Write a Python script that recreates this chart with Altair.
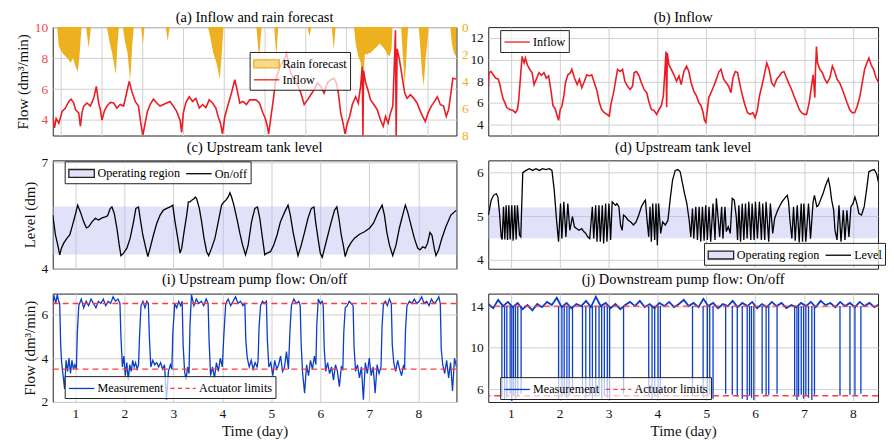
import altair as alt
import pandas as pd

SERIF = "Liberation Serif"
RED = "#EC1C24"
RED_LBL = "#EE4B4B"
ORANGE = "#EDB120"
ORANGE_LIGHT = "#F6D98F"
BLUE = "#0A3DC8"
LIMIT_RED = "#FF3B3B"
LAV_FILL = "#B8B8F0"
LAV_LEG = "#E2E2FA"

# ---------------- data ----------------
# (a) inflow and rain forecast (own time index, grid at integers)
a_inflow = [(0.81,4.2),(0.853,3.5),(0.894,4.1),(0.959,3.8),(1.041,4.56),(1.122,4.77),(1.204,5.2),(1.26,5.35),
    (1.326,5.1),(1.367,4.67),(1.448,4.45),(1.489,3.6),(1.53,4.5),(1.57,4.9),(1.652,5.1),(1.733,4.9),(1.815,5.4),
    (1.88,6.17),(1.937,5.1),(1.978,4.67),(2.019,4.0),(2.075,4.56),(2.14,4.9),(2.222,5.14),(2.304,5.1),(2.385,4.77),
    (2.467,5.0),(2.548,4.9),(2.613,5.63),(2.687,6.5),(2.752,5.85),(2.834,5.2),(2.915,4.9),(2.972,3.8),(3.021,3.0),
    (3.078,3.8),(3.135,4.56),(3.2,5.0),(3.282,5.35),(3.363,5.1),(3.445,4.9),(3.526,5.0),(3.608,5.1),(3.689,5.2),
    (3.771,4.9),(3.852,4.56),(3.934,4.0),(3.974,3.2),(4.015,4.45),(4.08,5.14),(4.162,5.5),(4.243,5.2),(4.325,5.4),
    (4.406,4.77),(4.488,5.0),(4.57,4.8),(4.651,5.3),(4.733,5.1),(4.814,4.77),(4.871,4.23),(4.928,3.8),(4.977,3.1),
    (5.034,4.23),(5.116,5.0),(5.197,5.74),(5.279,6.6),(5.336,5.96),(5.4,5.1),(5.482,5.2),(5.564,5.0),(5.645,5.3),
    (5.8,5.3),(5.882,5.1),(5.963,4.5),(6.028,4.1),(6.077,3.6),(6.11,3.1),(6.167,4.2),(6.224,5.3),(6.273,6.4),
    (6.33,7.0),(6.411,7.57),(6.493,7.9),(6.55,8.3),(6.615,7.46),(6.656,7.0),(6.738,6.6),(6.819,6.28),(6.901,5.74),
    (6.982,5.0),(7.064,5.3),(7.145,5.63),(7.227,5.96),(7.308,6.4),(7.39,6.17),(7.471,5.74),(7.553,6.4),(7.635,6.6),
    (7.716,6.7),(7.773,6.4),(7.822,5.74),(7.879,4.45),(7.936,3.8),(7.985,3.1),(8.042,3.8),(8.099,4.23),(8.164,5.0),
    (8.245,5.5),(8.31,5.1),(8.367,6.17),(8.408,7.46),(8.424,2.9),(8.44,7.2),(8.49,6.4),(8.546,5.96),(8.612,5.3),
    (8.693,5.0),(8.775,4.67),(8.856,4.0),(8.922,3.6),(8.979,4.23),(9.044,3.8),(9.101,4.45),(9.158,4.9),(9.207,8.5),
    (9.223,9.8),(9.24,2.9),(9.264,8.6),(9.321,7.9),(9.386,6.8),(9.451,5.74),(9.508,5.4),(9.59,5.63),(9.671,5.4),
    (9.753,5.1),(9.834,4.56),(9.891,4.23),(9.956,3.9),(10.021,4.45),(10.103,4.9),(10.184,5.2),(10.249,5.5),
    (10.323,5.0),(10.404,4.9),(10.47,4.23),(10.527,4.67),(10.584,5.74),(10.633,6.7),(10.71,6.65)]
a_rain = [(0.81,0),(0.918,0),(0.957,1.4),(1.04,1.9),(1.122,2.15),(1.204,2.4),(1.244,2.64),(1.31,2.3),(1.367,2.9),
    (1.424,3.3),(1.464,2.2),(1.497,0.8),(1.52,0),(1.628,0),(1.692,1.55),(1.749,0),(2.141,0),(2.198,1.0),(2.263,1.9),
    (2.361,3.5),(2.401,1.2),(2.434,0),(2.53,0),(2.58,1.0),(2.645,1.9),(2.711,4.0),(2.76,1.4),(2.8,0),(2.98,0),
    (3.021,1.3),(3.062,0),(3.584,0),(3.632,1.05),(3.681,0),(4.619,0),(4.667,0.6),(4.749,1.9),(4.83,2.64),
    (4.912,3.86),(4.96,1.9),(5.001,0),(5.808,0),(5.874,2.27),(5.939,0),(6.248,0),(6.297,2.15),(6.346,0),
    (7.063,0),(7.112,0.7),(7.161,0),(7.658,0),(7.707,1.66),(7.756,0),(8.204,0),(8.245,1.2),(8.31,2.15),
    (8.367,2.6),(8.424,3.86),(8.473,2.0),(8.53,2.0),(8.612,1.9),(8.693,1.66),(8.775,1.42),(8.832,1.2),
    (8.897,1.42),(8.963,1.66),(9.02,2.0),(9.077,2.15),(9.126,1.66),(9.15,0),(9.362,0),(9.403,2.0),(9.451,4.35),
    (9.492,2.15),(9.533,0),(9.794,0),(9.834,1.5),(9.875,3.4),(9.916,4.35),(9.956,2.6),(10.013,0.9),(10.038,0),
    (10.568,0),(10.608,1.2),(10.657,1.9),(10.706,2.15),(10.72,2.2)]

# (b) inflow, (day, dm3/min)
b_inflow = [(0.539,7.5),(0.552,8.8),(0.593,8.9),(0.640,8.6),(0.688,8.3),(0.742,8.2),(0.776,7.7),(0.810,6.95),
    (0.844,6.35),(0.878,6.04),(0.912,5.6),(0.980,5.4),(1.047,5.3),(1.095,5.1),(1.136,5.4),(1.163,6.35),(1.204,8.8),
    (1.231,10.3),(1.271,9.7),(1.298,10.15),(1.339,9.5),(1.387,9.1),(1.434,8.8),(1.475,7.7),(1.522,8.2),(1.577,8.8),
    (1.624,8.55),(1.678,8.8),(1.726,8.3),(1.773,8.5),(1.828,6.95),(1.862,5.75),(1.909,5.45),(1.950,4.8),(1.977,4.4),
    (2.011,5.4),(2.045,5.7),(2.085,6.65),(2.119,7.9),(2.167,8.6),(2.221,8.8),(2.248,9.1),(2.302,8.3),(2.357,7.7),
    (2.404,8.2),(2.452,7.4),(2.506,8.0),(2.554,8.6),(2.608,8.5),(2.655,8.6),(2.710,7.85),(2.764,7.1),(2.811,6.04),
    (2.859,5.4),(2.913,5.1),(2.967,4.95),(3.015,4.8),(3.049,5.9),(3.103,6.95),(3.150,8.2),(3.184,9.1),(3.239,8.9),
    (3.286,9.1),(3.334,8.0),(3.388,7.55),(3.442,7.25),(3.490,7.55),(3.524,8.8),(3.571,8.9),(3.625,8.5),(3.673,7.85),
    (3.727,7.25),(3.781,6.95),(3.829,6.04),(3.876,5.4),(3.931,5.3),(3.985,4.95),(4.032,5.4),(4.080,5.75),
    (4.121,6.65),(4.155,9.1),(4.175,10.75),(4.189,5.6),(4.202,10.6),(4.236,9.5),(4.284,9.1),(4.338,8.6),(4.392,8.0),
    (4.440,8.5),(4.487,7.7),(4.541,8.9),(4.596,9.4),(4.643,8.9),(4.690,7.85),(4.745,7.1),(4.799,6.65),(4.847,6.04),
    (4.894,5.75),(4.935,5.1),(4.962,4.4),(4.989,4.2),(5.016,5.1),(5.050,6.5),(5.097,6.95),(5.152,7.55),(5.206,8.2),
    (5.260,8.9),(5.301,9.1),(5.355,8.2),(5.410,7.85),(5.457,7.55),(5.505,6.95),(5.545,8.3),(5.593,8.9),(5.640,8.8),
    (5.695,7.55),(5.749,6.5),(5.796,5.75),(5.844,5.1),(5.898,4.95),(5.953,5.1),(6.000,4.65),(6.047,5.4),(6.088,6.65),
    (6.136,7.55),(6.183,8.5),(6.237,9.7),(6.285,9.1),(6.339,7.85),(6.387,7.55),(6.441,8.2),(6.495,8.5),(6.543,8.8),
    (6.590,8.9),(6.644,8.3),(6.699,7.7),(6.746,7.25),(6.794,6.65),(6.848,6.04),(6.902,5.4),(6.950,5.1),(7.004,4.95),
    (7.052,4.95),(7.106,6.04),(7.153,7.55),(7.187,8.6),(7.221,6.5),(7.235,9.1),(7.255,11.2),(7.276,9.7),(7.323,9.1),
    (7.377,8.8),(7.425,8.2),(7.472,7.85),(7.527,8.3),(7.581,9.4),(7.628,8.9),(7.676,8.2),(7.730,7.85),(7.785,7.25),
    (7.832,6.65),(7.880,6.04),(7.934,5.4),(7.988,5.1),(8.036,5.1),(8.083,5.6),(8.138,6.5),(8.192,7.85),(8.239,9.1),
    (8.287,9.7),(8.328,10.15),(8.375,9.5),(8.423,9.1),(8.477,8.3),(8.531,7.85),(8.579,8.3),(8.626,8.6),(8.681,8.5),
    (8.735,7.85),(8.762,8.0)]

# (c) upstream tank level, on/off (day, dm)
c_level = [(0.539,5.51),(0.593,4.95),(0.640,4.67),(0.681,4.39),(0.715,4.58),(0.762,4.72),(0.830,4.86),(0.885,4.95),
    (0.932,5.18),(0.980,5.42),(1.047,5.79),(1.102,5.6),(1.170,5.32),(1.224,5.15),(1.271,5.18),(1.339,5.32),
    (1.407,5.42),(1.475,5.37),(1.543,5.43),(1.611,5.46),(1.658,5.49),(1.713,5.7),(1.746,5.74),(1.794,5.56),
    (1.848,5.14),(1.895,4.67),(1.930,4.37),(1.984,4.44),(2.052,4.58),(2.119,4.86),(2.187,5.32),(2.235,5.7),
    (2.289,5.74),(2.323,5.42),(2.377,4.95),(2.438,4.58),(2.479,4.34),(2.526,4.58),(2.594,4.95),(2.662,5.28),
    (2.730,5.51),(2.798,5.65),(2.866,5.7),(2.934,5.74),(2.988,5.79),(3.035,5.32),(3.090,4.86),(3.137,4.44),
    (3.171,4.58),(3.219,5.04),(3.273,5.51),(3.307,5.88),(3.341,5.88),(3.375,5.93),(3.422,5.97),(3.449,6.02),
    (3.476,5.97),(3.531,5.7),(3.578,5.32),(3.626,4.86),(3.680,4.48),(3.721,4.37),(3.782,4.58),(3.850,4.86),
    (3.917,5.32),(3.985,5.79),(4.033,5.88),(4.073,5.93),(4.121,6.02),(4.155,6.14),(4.189,6.02),(4.236,5.79),
    (4.304,5.37),(4.358,5.0),(4.413,4.67),(4.474,4.39),(4.528,4.67),(4.596,5.32),(4.664,5.7),(4.718,5.74),
    (4.765,5.42),(4.820,4.86),(4.867,4.39),(4.915,4.44),(4.983,4.48),(5.050,4.67),(5.118,4.95),(5.186,5.32),
    (5.274,5.6),(5.342,5.79),(5.389,5.51),(5.444,5.04),(5.498,4.67),(5.545,4.37),(5.613,4.67),(5.681,5.04),
    (5.749,5.42),(5.817,5.7),(5.871,5.74),(5.905,5.32),(5.953,4.86),(6.000,4.44),(6.041,4.32),(6.088,4.58),
    (6.156,4.95),(6.224,5.32),(6.292,5.65),(6.339,5.74),(6.380,5.42),(6.428,4.95),(6.475,4.62),(6.509,4.34),
    (6.563,4.58),(6.631,4.74),(6.699,4.86),(6.801,4.97),(6.903,5.04),(7.004,5.14),(7.086,5.28),(7.174,5.56),
    (7.262,5.79),(7.310,5.51),(7.357,5.04),(7.411,4.67),(7.479,4.37),(7.547,4.67),(7.614,5.14),(7.682,5.51),
    (7.737,5.79),(7.784,5.6),(7.852,5.23),(7.920,4.86),(7.988,4.58),(8.035,4.53),(8.090,4.62),(8.143,4.58),
    (8.191,4.72),(8.239,5.02),(8.279,4.95),(8.327,4.58),(8.361,4.37),(8.415,4.53),(8.483,4.86),(8.564,5.18),
    (8.666,5.51),(8.781,5.65)]
c_region = [4.4, 5.75]

# (d) upstream tank level (day, dm)
d_level = [(0.538,5.03),(0.552,5.1),(0.599,5.37),(0.647,5.48),(0.701,5.52),(0.735,5.44),(0.769,5.06),(0.803,4.53),
    (0.823,4.47),(0.850,5.22),(0.877,4.47),(0.904,5.25),(0.932,4.46),(0.959,5.25),(0.986,4.47),(1.020,5.25),
    (1.047,4.44),(1.081,5.25),(1.108,4.47),(1.135,5.25),(1.176,4.57),(1.203,4.53),(1.244,6.0),(1.312,6.05),
    (1.379,6.09),(1.447,6.05),(1.515,6.09),(1.583,6.05),(1.651,6.09),(1.719,6.07),(1.786,6.09),(1.841,6.05),
    (1.888,5.6),(1.936,4.91),(1.976,4.42),(2.017,5.29),(2.044,4.49),(2.085,5.33),(2.126,4.53),(2.166,5.29),
    (2.207,4.68),(2.261,4.99),(2.302,4.76),(2.343,4.72),(2.397,4.68),(2.451,4.72),(2.492,4.65),(2.532,4.61),
    (2.573,4.53),(2.614,4.49),(2.668,5.22),(2.696,4.49),(2.736,5.25),(2.763,4.42),(2.804,5.25),(2.831,4.42),
    (2.872,5.25),(2.899,4.38),(2.940,5.29),(2.967,4.42),(3.008,5.29),(3.042,4.46),(3.075,5.33),(3.109,5.29),
    (3.143,5.25),(3.170,5.29),(3.211,5.22),(3.245,4.8),(3.279,4.68),(3.306,5.03),(3.347,4.99),(3.401,4.91),
    (3.455,4.87),(3.510,4.8),(3.564,4.87),(3.618,5.03),(3.672,5.22),(3.727,5.33),(3.754,5.37),(3.788,4.91),
    (3.822,4.53),(3.849,5.22),(3.876,4.42),(3.903,5.29),(3.944,4.46),(3.971,5.29),(3.998,4.34),(4.025,5.29),
    (4.066,4.61),(4.107,4.87),(4.161,4.8),(4.215,4.91),(4.263,5.41),(4.310,5.83),(4.365,6.05),(4.419,6.07),
    (4.466,6.02),(4.514,5.75),(4.555,5.52),(4.602,5.29),(4.650,4.91),(4.683,4.53),(4.717,5.18),(4.744,4.49),
    (4.785,5.22),(4.819,4.46),(4.853,5.22),(4.887,4.42),(4.921,5.22),(4.955,4.44),(4.988,5.25),(5.022,4.46),
    (5.056,5.22),(5.090,4.42),(5.138,5.29),(5.178,4.46),(5.206,5.41),(5.246,4.91),(5.273,4.53),(5.314,5.22),
    (5.341,4.49),(5.382,5.22),(5.409,4.65),(5.450,4.76),(5.490,4.61),(5.531,5.41),(5.572,5.37),(5.613,4.99),
    (5.640,4.46),(5.667,5.25),(5.701,4.42),(5.735,5.29),(5.769,4.46),(5.802,5.29),(5.836,4.49),(5.870,5.33),
    (5.911,4.46),(5.938,5.29),(5.979,4.46),(6.006,5.33),(6.046,4.49),(6.087,5.33),(6.128,4.46),(6.155,5.29),
    (6.196,4.46),(6.223,5.33),(6.277,4.42),(6.311,5.29),(6.359,4.61),(6.399,4.95),(6.447,5.1),(6.494,5.22),
    (6.549,5.33),(6.603,5.41),(6.657,5.48),(6.684,5.33),(6.712,4.91),(6.752,4.49),(6.786,5.22),(6.820,4.44),
    (6.861,5.25),(6.901,4.40),(6.942,5.29),(6.970,4.42),(6.997,5.29),(7.037,4.42),(7.092,5.29),(7.133,4.49),
    (7.186,5.33),(7.214,5.48),(7.261,5.22),(7.295,5.25),(7.336,5.37),(7.390,5.52),(7.431,5.67),(7.471,5.79),
    (7.498,5.86),(7.532,5.67),(7.566,5.37),(7.607,5.14),(7.634,4.68),(7.675,4.46),(7.716,5.25),(7.756,4.42),
    (7.804,5.14),(7.838,4.46),(7.878,5.14),(7.919,4.53),(7.960,5.22),(8.001,5.29),(8.042,5.44),(8.082,5.29),
    (8.123,5.06),(8.177,5.03),(8.232,5.22),(8.279,5.6),(8.327,6.02),(8.381,6.05),(8.435,6.07),(8.483,5.98),
    (8.530,5.75),(8.585,5.44),(8.626,5.14),(8.666,4.91),(8.707,5.29),(8.741,5.18)]
d_region = [4.5, 5.2]

# (i) upstream pump flow (day, dm3/min)
i_flow = [(0.54,6.6),(0.57,6.8),(0.60,6.5),(0.63,6.9),(0.66,6.6),(0.68,6.5),
    (0.70,4.6),(0.72,3.8),(0.75,3.2),(0.78,2.6),(0.81,3.9),(0.84,3.4),(0.87,4.0),(0.90,3.3),(0.93,3.9),(0.96,3.5),(0.99,3.7),(1.02,3.5),
    (1.04,5.2),(1.07,6.4),(1.12,6.7),(1.17,6.3),(1.22,6.6),(1.27,6.4),(1.32,6.7),(1.37,6.5),(1.42,6.3),(1.47,6.6),(1.52,6.5),
    (1.57,6.7),(1.62,6.4),(1.67,6.6),(1.72,6.5),(1.77,6.8),(1.82,6.6),(1.87,6.7),(1.91,6.5),
    (1.93,5.0),(1.96,3.6),(1.99,4.1),(2.02,3.2),(2.05,3.8),(2.08,3.0),(2.11,3.7),(2.14,3.4),(2.17,3.9),(2.20,3.6),(2.23,3.8),(2.26,3.5),(2.29,3.7),
    (2.31,5.0),(2.34,6.4),(2.38,6.6),(2.42,6.3),(2.46,6.6),(2.49,6.5),
    (2.51,5.0),(2.54,3.6),(2.58,3.9),(2.62,3.7),(2.66,3.8),(2.70,3.6),(2.74,3.8),(2.78,3.5),(2.82,3.7),(2.86,2.1),(2.90,3.4),(2.94,3.7),(2.97,3.5),
    (2.99,5.2),(3.03,6.5),(3.07,6.3),(3.11,6.6),(3.15,6.4),(3.18,6.6),
    (3.20,4.6),(3.23,3.4),(3.26,3.0),(3.29,3.6),(3.32,3.3),
    (3.34,5.5),(3.37,6.9),(3.42,6.4),(3.47,6.7),(3.52,6.5),(3.57,6.6),(3.62,6.4),(3.67,6.7),(3.71,6.5),
    (3.73,4.8),(3.76,3.2),(3.80,3.6),(3.84,3.1),(3.88,3.8),(3.92,3.4),(3.96,4.0),(4.00,3.6),
    (4.03,5.0),(4.07,6.5),(4.12,6.7),(4.17,6.4),(4.22,6.6),(4.27,6.8),(4.32,6.5),(4.37,6.6),(4.42,6.4),(4.46,6.5),
    (4.48,4.8),(4.51,4.0),(4.55,3.6),(4.59,3.9),(4.63,3.5),(4.67,3.8),(4.71,3.6),(4.73,3.9),
    (4.75,5.4),(4.78,6.4),(4.82,6.6),(4.86,6.5),(4.90,6.6),
    (4.92,4.8),(4.95,3.6),(4.99,3.8),(5.03,3.2),(5.07,3.9),(5.11,3.5),(5.15,3.7),(5.19,4.1),(5.23,3.4),(5.27,3.6),(5.31,4.3),(5.35,3.5),
    (5.38,5.2),(5.41,6.4),(5.46,6.7),(5.51,6.5),(5.56,6.6),(5.59,6.4),
    (5.61,4.6),(5.64,3.3),(5.68,2.4),(5.72,3.7),(5.76,3.2),(5.80,3.9),(5.84,3.5),(5.88,4.1),(5.91,3.7),
    (5.93,5.6),(5.96,6.7),(6.00,6.5),(6.04,6.6),(6.06,6.4),
    (6.08,4.5),(6.11,3.4),(6.15,3.8),(6.19,3.3),(6.23,3.6),(6.27,3.0),(6.31,3.7),(6.35,3.4),(6.39,2.7),(6.43,3.6),(6.46,3.5),
    (6.48,5.2),(6.51,6.3),(6.55,6.4),(6.59,6.6),(6.63,6.5),(6.67,6.4),
    (6.69,4.5),(6.72,3.4),(6.76,3.7),(6.80,3.1),(6.84,3.6),(6.88,2.1),(6.92,3.8),(6.96,3.3),(7.00,4.0),(7.04,3.2),(7.08,3.6),(7.12,2.4),(7.16,3.7),(7.20,3.3),(7.24,3.6),
    (7.26,5.4),(7.29,6.5),(7.33,6.6),(7.37,6.4),(7.41,6.7),(7.45,6.5),
    (7.47,4.6),(7.50,3.8),(7.54,3.4),(7.58,3.9),(7.62,3.5),(7.66,3.2),(7.70,3.7),(7.72,3.5),
    (7.74,5.3),(7.77,6.4),(7.82,6.6),(7.87,6.5),(7.92,6.7),(7.97,6.5),(8.02,6.6),(8.07,6.8),(8.12,6.5),(8.17,6.6),(8.22,6.4),(8.27,6.7),(8.32,6.5),(8.37,6.6),(8.42,6.8),(8.45,6.5),
    (8.47,4.4),(8.50,3.7),(8.54,3.3),(8.58,3.9),(8.62,3.1),(8.66,3.8),(8.70,2.5),(8.74,4.0),(8.78,3.6)]
i_limits = [3.5, 6.5]

# (j) downstream pump flow: running level and the drops to the lower limit
j_flow = [(0.54,14.2),(0.64,13.8),(0.74,14.6),(0.84,14.0),(0.94,14.4),(1.04,13.9),(1.14,14.3),(1.24,13.7),(1.34,14.1),
    (1.44,13.6),(1.54,14.2),(1.64,13.9),(1.74,14.4),(1.84,14.1),(1.94,14.8),(2.04,13.9),(2.14,14.3),(2.24,13.8),
    (2.34,14.2),(2.44,14.0),(2.54,14.5),(2.64,13.9),(2.74,14.9),(2.84,14.0),(2.94,14.3),(3.04,13.8),(3.14,14.2),
    (3.24,13.7),(3.34,14.1),(3.44,14.4),(3.54,14.0),(3.64,14.5),(3.74,13.9),(3.84,14.2),(3.94,13.8),(4.04,14.3),
    (4.14,14.0),(4.24,14.4),(4.34,13.9),(4.44,14.2),(4.54,14.6),(4.64,14.0),(4.74,14.3),(4.84,13.9),(4.94,14.7),
    (5.04,14.0),(5.14,14.3),(5.24,13.8),(5.34,14.2),(5.44,14.0),(5.54,14.5),(5.64,13.9),(5.74,14.3),(5.84,14.0),
    (5.94,14.4),(6.04,13.8),(6.14,14.2),(6.24,13.9),(6.34,14.4),(6.44,14.0),(6.54,14.3),(6.64,13.8),(6.74,14.1),
    (6.84,13.9),(6.94,14.3),(7.04,14.0),(7.14,14.4),(7.24,13.9),(7.34,14.5),(7.44,14.1),(7.54,14.3),(7.64,13.9),
    (7.74,14.4),(7.84,14.0),(7.94,14.3),(8.04,13.9),(8.14,14.4),(8.24,14.0),(8.34,14.3),(8.44,13.9),(8.54,14.2),
    (8.64,14.0),(8.76,14.3)]
j_drops = [(0.817,5.3),(0.871,5.0),(0.918,5.2),(0.986,5.6),(1.020,4.9),(1.054,5.4),(1.095,5.1),(1.142,5.3),(1.210,5.6),
    (1.977,5.0),(2.045,5.3),(2.092,5.5),(2.147,5.2),(2.194,5.4),(2.262,5.6),(2.466,5.5),(2.534,5.2),(2.615,5.4),
    (2.669,5.0),(2.737,5.3),(2.805,5.5),(2.859,5.1),(2.913,5.4),(2.974,5.2),(3.022,5.0),(3.307,5.6),(3.822,5.3),
    (3.890,5.0),(3.944,5.4),(4.012,5.2),(4.060,5.5),(4.718,5.4),(4.935,5.2),(5.023,5.4),(5.070,5.5),(5.138,5.1),
    (5.396,5.6),(5.532,5.5),(5.634,5.3),(5.736,5.1),(5.837,5.0),(5.885,5.4),(5.925,5.2),(5.973,5.0),(6.143,5.6),
    (6.224,5.4),(6.278,5.5),(6.448,5.6),(6.808,5.4),(6.855,5.0),(6.889,5.3),(6.943,5.5),(6.991,5.1),(7.038,5.4),
    (7.092,5.2),(7.160,5.0),(7.214,5.5),(7.736,5.4),(7.940,5.5),(8.042,5.4),(8.164,5.6),(8.734,5.5)]
j_run_level = 14.0
j_limits = [5.4, 14.0]

day_ticks = [1, 2, 3, 4, 5, 6, 7, 8]
a_ticks = [1, 2, 3, 4, 5, 6, 7, 8, 9, 10]

# ---------------- helpers ----------------
W_L, W_R, H = 406, 392, 109
DAY_L = [0.538, 8.78]
DAY_R = [0.538, 8.515]
RECT = "M-1.6,-0.5L1.6,-0.5L1.6,0.5L-1.6,0.5Z"
LINE = "M-1.6,0L1.6,0"
DASH = "M-1.6,0L-1.05,0M-0.65,0L-0.1,0M0.3,0L0.85,0M1.25,0L1.6,0"


def pts(p, cols=("t", "v")):
    return pd.DataFrame(p, columns=list(cols))


def xax(values, bottom):
    if bottom:
        return alt.Axis(values=values, title="Time (day)", grid=True, labels=True, titlePadding=3)
    return alt.Axis(values=values, title=None, grid=True, labels=False)


def xenc(domain, values, bottom):
    return alt.X("t:Q", scale=alt.Scale(domain=domain, nice=False, zero=False), axis=xax(values, bottom))


def yenc(domain, values, title=None, **kw):
    return alt.Y("v:Q", scale=alt.Scale(domain=domain, nice=False, zero=False),
                 axis=alt.Axis(values=values, title=title, grid=True, **kw))


def legend_layer(labels, fills, strokes, shapes, lx, ly, direction):
    leg = alt.Legend(title=None, orient="none", legendX=lx, legendY=ly, direction=direction,
                     fillColor="rgba(255,255,255,0.7)", strokeColor="#222222", padding=3,
                     labelFont=SERIF, labelFontSize=12.2, labelColor="black", symbolSize=256,
                     symbolStrokeWidth=1.3, symbolOffset=5, labelOffset=7, columnPadding=3, rowPadding=0)
    df = pd.DataFrame({"series": labels})
    return alt.Chart(df).transform_filter("false").mark_point(filled=True, opacity=1).encode(
        fill=alt.Fill("series:N", scale=alt.Scale(domain=labels, range=fills), legend=leg),
        stroke=alt.Stroke("series:N", scale=alt.Scale(domain=labels, range=strokes), legend=leg),
        shape=alt.Shape("series:N", scale=alt.Scale(domain=labels, range=shapes), legend=leg),
    )


def ttl(text, offset):
    return alt.TitleParams(text, font=SERIF, fontSize=14.5, fontWeight="normal", color="black", offset=offset)


FLOW_TITLE = "Flow (dm³/min)"

# ---------------- (a) ----------------
rain = alt.Chart(pts(a_rain)).mark_area(color=ORANGE, opacity=1, clip=True).encode(
    x=xenc([0.81, 10.72], a_ticks, False),
    y=alt.Y("v:Q", scale=alt.Scale(domain=[0, 8], reverse=True, nice=False, zero=False),
            axis=alt.Axis(orient="right", values=[0, 2, 4, 6, 8], title=None, grid=False, labelColor=ORANGE)),
    y2=alt.datum(0),
)
a_line = alt.Chart(pts(a_inflow)).mark_line(color=RED, strokeWidth=1.6, clip=True).encode(
    x=xenc([0.81, 10.72], a_ticks, False),
    y=yenc([3, 10], [4, 6, 8, 10], FLOW_TITLE, orient="left", labelColor=RED_LBL),
)
a_leg = legend_layer(["Rain forecast", "Inflow"], [ORANGE_LIGHT, "transparent"], [ORANGE, RED],
                     [RECT, LINE], 198, 25, "vertical")
panel_a = alt.layer(rain, a_line, a_leg).resolve_scale(y="independent").properties(
    width=W_L, height=H, title=ttl("(a) Inflow and rain forecast", -5))

# ---------------- (b) ----------------
b_line = alt.Chart(pts(b_inflow)).mark_line(color=RED, strokeWidth=1.6, clip=True).encode(
    x=xenc(DAY_R, day_ticks, False), y=yenc([3, 13], [4, 6, 8, 10, 12]))
b_leg = legend_layer(["Inflow"], ["transparent"], [RED], [LINE], 12, 3, "vertical")
panel_b = alt.layer(b_line, b_leg).properties(width=W_R, height=H, title=ttl("(b) Inflow", 2))

# ---------------- (c) ----------------
c_band = alt.Chart(pd.DataFrame({"lo": [c_region[0]], "hi": [c_region[1]]})).mark_rect(
    color=LAV_FILL, opacity=0.42).encode(y=alt.Y("lo:Q"), y2="hi:Q")
c_line = alt.Chart(pts(c_level)).mark_line(color="black", strokeWidth=1.3, clip=True).encode(
    x=xenc(DAY_L, day_ticks, False), y=yenc([4, 7.05], [4, 5, 6, 7], "Level (dm)"))
c_leg = legend_layer(["Operating region", "On/off"], [LAV_LEG, "transparent"], ["#222222", "black"],
                     [RECT, LINE], 12, 1, "horizontal")
panel_c = alt.layer(c_band, c_line, c_leg).properties(width=W_L, height=H,
                                                      title=ttl("(c) Upstream tank level", -0.5))

# ---------------- (d) ----------------
d_band = alt.Chart(pd.DataFrame({"lo": [d_region[0]], "hi": [d_region[1]]})).mark_rect(
    color=LAV_FILL, opacity=0.42).encode(y=alt.Y("lo:Q"), y2="hi:Q")
d_line = alt.Chart(pts(d_level)).mark_line(color="black", strokeWidth=1.3, clip=True).encode(
    x=xenc(DAY_R, day_ticks, False), y=yenc([3.8, 6.28], [4, 5, 6]))
d_leg = legend_layer(["Operating region", "Level"], [LAV_LEG, "transparent"], ["#222222", "black"],
                     [RECT, LINE], 217, 83, "horizontal")
panel_d = alt.layer(d_band, d_line, d_leg).properties(width=W_R, height=H,
                                                      title=ttl("(d) Upstream tank level", 4.5))

# ---------------- (i) ----------------
i_line = alt.Chart(pts(i_flow)).mark_line(color=BLUE, strokeWidth=1.3, clip=True).encode(
    x=xenc(DAY_L, day_ticks, True), y=yenc([2, 6.95], [2, 4, 6], FLOW_TITLE))
i_lim = alt.Chart(pd.DataFrame({"v": i_limits})).mark_rule(
    color=LIMIT_RED, strokeDash=[6, 4], strokeWidth=1.4).encode(y="v:Q")
i_leg = legend_layer(["Measurement", "Actuator limits"], ["transparent", "transparent"], [BLUE, LIMIT_RED],
                     [LINE, DASH], 12, 83, "horizontal")
panel_i = alt.layer(i_line, i_lim, i_leg).properties(width=W_L, height=H,
                                                     title=ttl("(i) Upstream pump flow: On/off", 6))

# ---------------- (j) ----------------
j_line = alt.Chart(pts(j_flow)).mark_line(color=BLUE, strokeWidth=1.8, clip=True).encode(
    x=xenc(DAY_R, day_ticks, True), y=yenc([4.8, 15.2], [6, 8, 10, 12, 14]))
j_drop = alt.Chart(pts(j_drops)).mark_rule(color=BLUE, strokeWidth=1.3, clip=True).encode(
    x="t:Q", y="v:Q", y2=alt.datum(j_run_level))
j_lim = alt.Chart(pd.DataFrame({"v": j_limits})).mark_rule(
    color=LIMIT_RED, strokeDash=[6, 4], strokeWidth=1.4).encode(y="v:Q")
j_leg = legend_layer(["Measurement", "Actuator limits"], ["transparent", "transparent"], [BLUE, LIMIT_RED],
                     [LINE, DASH], 12, 84, "horizontal")
panel_j = alt.layer(j_line, j_drop, j_lim, j_leg).properties(width=W_R, height=H,
                                                            title=ttl("(j) Downstream pump flow: On/off", 6))

IND = dict(fill="independent", stroke="independent", shape="independent")

chart = alt.concat(panel_a, panel_b, panel_c, panel_d, panel_i, panel_j, columns=2, align="each",
                   spacing={"row": 25, "column": 32}, bounds="flush").resolve_scale(**IND).properties(
    padding={"left": 7, "top": 0, "right": 0, "bottom": 0}
).configure(font=SERIF).configure_view(stroke="#222222", strokeWidth=1).configure_axis(
    gridColor="#D0D0D0", gridWidth=1, domain=False, ticks=False, labelFont=SERIF, labelFontSize=13.5,
    labelColor="#111111", titleFont=SERIF, titleFontSize=15, titleFontWeight="normal", titleColor="#111111",
    labelPadding=5,
)

chart.save("out.html", embed_options={"renderer": "svg", "actions": False})
